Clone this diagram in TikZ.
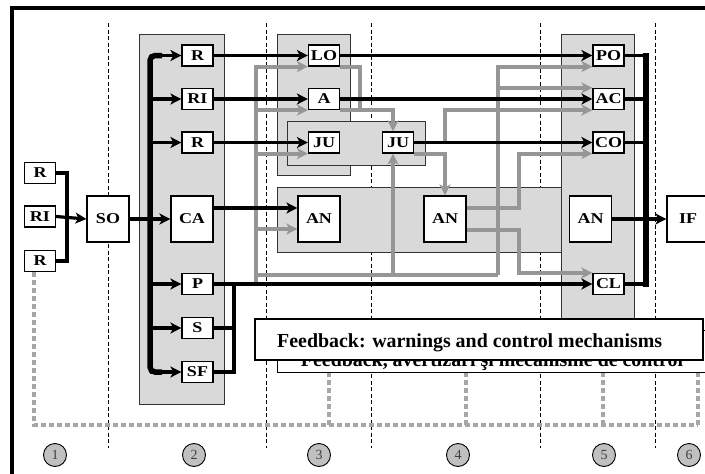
\documentclass[tikz,border=0pt]{standalone}
\usepackage{graphicx}
\usepackage{fontspec}
\setmainfont{Liberation Serif}
\usetikzlibrary{arrows.meta,calc}
\definecolor{boxgray}{RGB}{217,217,217}
\definecolor{linegray}{RGB}{150,150,150}
\definecolor{dotgray}{RGB}{166,166,166}
\definecolor{circgray}{RGB}{192,192,192}
\newcommand{\lbl}[1]{\scalebox{1.2}[1]{\fontsize{15}{15}\selectfont\bfseries #1}}
\begin{document}
\begin{tikzpicture}[x=1pt,y=-1pt,
  sbox/.style={draw=black, line width=1.2pt, fill=white, minimum width=31pt, minimum height=21pt, inner sep=0pt},
  bbox/.style={draw=black, line width=1.2pt, fill=white, minimum width=42pt, minimum height=46pt, inner sep=0pt},
  region/.style={draw=black!80, line width=1pt, fill=boxgray},
  colline/.style={draw=black, line width=1pt, dash pattern=on 4pt off 2.5pt},
  barrow/.style={draw=black, line width=3.2pt, -{Stealth[length=11pt,width=11pt,inset=3pt]}},
  bline/.style={draw=black, line width=3.2pt},
  bus/.style={draw=black, line width=5.5pt, line cap=rect},
  garrow/.style={draw=linegray, line width=3.8pt, -{Stealth[length=11pt,width=11pt,inset=3pt]}},
  gline/.style={draw=linegray, line width=3.8pt},
  fbdot/.style={draw=dotgray, line width=4.5pt, dash pattern=on 5pt off 3pt},
  fbtext/.style={font=\fontsize{19.9}{20}\selectfont\bfseries, inner sep=0pt},
  numc/.style={circle, draw=black, line width=0.9pt, fill=circgray, minimum size=23pt, inner sep=0pt, font=\fontsize{14}{14}\selectfont, text=black!75},
]
\useasboundingbox (0,0) rectangle (705,474);

% column separators
\foreach \x in {108,266,371,540,655} \draw[colline] (\x,23) -- (\x,448);

% shaded regions
\draw[region] (139,34) rectangle (224,404);
\draw[region] (277,34) rectangle (350,175);
\draw[region] (287,121) rectangle (425,165);
\draw[region] (277,187) rectangle (561,252);
\draw[region] (561,34) rectangle (634,340);

% nodes
\node[sbox] (R1) at (40,173) {\lbl{R}};
\node[sbox] (RI1) at (40,216.5) {\lbl{RI}};
\node[sbox] (R1b) at (40,261) {\lbl{R}};
\node[bbox] (SO) at (108,219) {\lbl{SO}};
\node[sbox] (R2) at (197.5,55.5) {\lbl{R}};
\node[sbox] (RI2) at (197.5,99) {\lbl{RI}};
\node[sbox] (R3) at (197.5,142.5) {\lbl{R}};
\node[bbox] (CA) at (192,219) {\lbl{CA}};
\node[sbox] (P) at (197.5,284) {\lbl{P}};
\node[sbox] (S) at (197.5,328) {\lbl{S}};
\node[sbox] (SF) at (197.5,372) {\lbl{SF}};
\node[sbox] (LO) at (324,55.5) {\lbl{LO}};
\node[sbox] (A) at (324,99) {\lbl{A}};
\node[sbox] (JU1) at (324,142.5) {\lbl{JU}};
\node[sbox] (JU2) at (398,142.5) {\lbl{JU}};
\node[bbox] (AN1) at (319,219) {\lbl{AN}};
\node[bbox] (AN2) at (445,219) {\lbl{AN}};
\node[bbox] (AN3) at (590.5,219) {\lbl{AN}};
\node[sbox] (PO) at (608.5,55.5) {\lbl{PO}};
\node[sbox] (AC) at (608.5,99) {\lbl{AC}};
\node[sbox] (CO) at (608.5,142.5) {\lbl{CO}};
\node[sbox] (CL) at (608.5,284) {\lbl{CL}};
\node[bbox] (IF) at (688,219) {\lbl{IF}};

\coordinate (lbx) at (150,0);
\coordinate (jx) at (234,0);
\coordinate (rbx) at (646,0);

% gray feedback network
\coordinate (gP) at (256,284);
\coordinate (gBL) at (256,275);
\coordinate (gBR) at (498,275);
\coordinate (gJ) at (445,142.5);
\draw[garrow] (gP) |- (LO.south west);
\draw[garrow] (gP) |- (A.south west);
\draw[garrow] (gP) |- (JU1.south west);
\draw[garrow] (gP) |- ($(AN1.west)+(0,10)$);
\draw[gline] (gBL) -- (gBR);
\draw[garrow] (gBL) -| ([xshift=-5pt]JU2.south);
\draw[garrow] (gBR) |- (PO.south west);
\draw[garrow] (gBR) |- (AC.north west);
\draw[gline] (LO.south east) -| ($(A.south east)+(20,0)$);
\draw[garrow] (A.south east) -| ([xshift=-5pt]JU2.north);
\draw[garrow] (JU2.south east) -| (AN2.north);
\draw[garrow] (gJ) |- (AC.south west);
\draw[garrow] ($(AN2.east)+(0,-11)$) -- ++(52,0) |- (CO.south west);
\draw[garrow] ($(AN2.east)+(0,11)$) -- ++(52,0) |- (CL.north west);

% left inputs
\draw[bline, line width=4pt] (R1.east) -- ++(11,0) |- (R1b.east);
\draw[barrow] (RI1.east) -- (SO.west);

% left bus
\draw[bus, line cap=butt, rounded corners=5pt] ($(R2.west -| lbx)+(12,0)$) -- (R2.west -| lbx) -- (SF.west -| lbx) -- ($(SF.west -| lbx)+(12,0)$);
\draw[barrow] (R2.west -| lbx) -- (R2.west);
\draw[barrow] (RI2.west -| lbx) -- (RI2.west);
\draw[barrow] (R3.west -| lbx) -- (R3.west);
\draw[barrow] (P.west -| lbx) -- (P.west);
\draw[barrow] (S.west -| lbx) -- (S.west);
\draw[barrow] (SF.west -| lbx) -- (SF.west);
\draw[barrow] (SO.east) -- (CA.west);

% black flows
\draw[barrow] (R2.east) -- (LO.west);
\draw[barrow] (RI2.east) -- (A.west);
\draw[barrow] (R3.east) -- (JU1.west);
\draw[barrow] ($(CA.east)+(0,-11)$) -- ($(AN1.west)+(0,-11)$);
\draw[barrow] (LO.east) -- (PO.west);
\draw[barrow] (A.east) -- (AC.west);
\draw[barrow] (JU2.east) -- (CO.west);
\draw[barrow] (AN3.east) -- (IF.west);
\draw[barrow] (P.east) -- (CL.west);
\draw[bline] (S.east) -- (S.east -| jx);
\draw[bline] (SF.east) -- (SF.east -| jx);
\draw[bus, line width=4.2pt] (P.east -| jx) -- (SF.east -| jx);

% right bus
\draw[bline] (PO.east) -- (PO.east -| rbx);
\draw[bline] (AC.east) -- (AC.east -| rbx);
\draw[bline] (CO.east) -- (CO.east -| rbx);
\draw[bline] (CL.east) -- (CL.east -| rbx);
\draw[bus] (PO.east -| rbx) -- (CL.east -| rbx);

% feedback dotted lines
\coordinate (fbR) at (698,425);
\draw[fbdot] ([xshift=-6pt]R1b.south) |- (fbR);
\foreach \x in {329,466,603,698} \draw[fbdot] (\x,372) -- (\x,425);

% feedback boxes
\draw[line width=1pt, fill=white] (277,330) rectangle (720,372);
\node[fbtext, anchor=base] (FBbt) at (492,366) {Feedback, avertizări şi mecanisme de control};
\node[draw=black, line width=1.2pt, fill=white, minimum width=448pt, minimum height=41pt, inner sep=0pt] (FBf) at (479,339.5) {};
\node[fbtext, anchor=base west] (FBft) at (277,347) {Feedback: warnings and control mechanisms};

% column numbers
\node[numc] (n1) at (55,455) {1};
\node[numc] (n2) at (194,455) {2};
\node[numc] (n3) at (319,455) {3};
\node[numc] (n4) at (458,455) {4};
\node[numc] (n5) at (604,455) {5};
\node[numc] (n6) at (689,455) {6};

% frame
\draw[line width=4pt] (12,480) -- (12,8) -- (712,8);
\end{tikzpicture}
\end{document}
